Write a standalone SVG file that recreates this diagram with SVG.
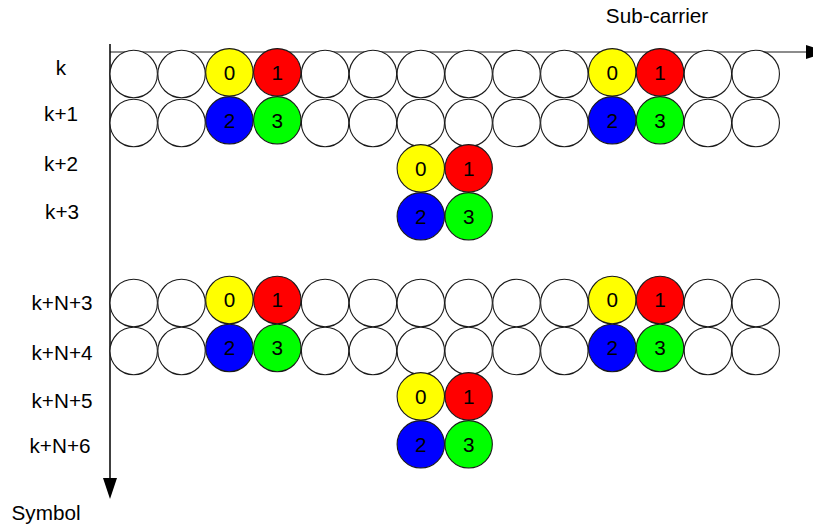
<svg xmlns="http://www.w3.org/2000/svg" width="813" height="526" viewBox="0 0 813 526">
<style>
text{font-family:"Liberation Sans",Arial,sans-serif;font-size:20.7px;fill:#000}
.lbl{text-anchor:middle}
.num{text-anchor:middle}
circle{stroke:#1a1a1a;stroke-width:1.1}
.w{fill:#fff}
.y{fill:#ffff00}
.r{fill:#ff0000}
.b{fill:#0000ff}
.g{fill:#00ff00}
</style>
<defs>
<marker id="ah" markerWidth="21" markerHeight="14" refX="0" refY="7" orient="auto" markerUnits="userSpaceOnUse">
<path d="M0,0 L21,7 L0,14 Z" fill="#000"/>
</marker>
</defs>
<rect width="813" height="526" fill="#fff"/>
<g id="connectors">
<line x1="110" y1="52" x2="806" y2="52" stroke="#666" stroke-width="1.5" marker-end="url(#ah)"/>
<line x1="110" y1="44" x2="110" y2="478" stroke="#000" stroke-width="1.5" marker-end="url(#ah)"/>
</g>
<g id="axis-labels">
<text id="lbl-subcarrier" x="657" y="23" class="lbl">Sub-carrier</text>
<text id="lbl-symbol" x="46" y="520" class="lbl">Symbol</text>
<text x="61" y="75" class="lbl">k</text>
<text x="61" y="121" class="lbl">k+1</text>
<text x="61" y="171" class="lbl">k+2</text>
<text x="62" y="219" class="lbl">k+3</text>
<text x="62" y="310" class="lbl">k+N+3</text>
<text x="62" y="360" class="lbl">k+N+4</text>
<text x="62" y="408" class="lbl">k+N+5</text>
<text x="60" y="453" class="lbl">k+N+6</text>
</g>
<g id="row-k-white">
<circle class="w" cx="133.7" cy="74" r="23.7"/>
<circle class="w" cx="181.55" cy="74" r="23.7"/>
<circle class="w" cx="325.1" cy="74" r="23.7"/>
<circle class="w" cx="372.95" cy="74" r="23.7"/>
<circle class="w" cx="420.8" cy="74" r="23.7"/>
<circle class="w" cx="468.65" cy="74" r="23.7"/>
<circle class="w" cx="516.5" cy="74" r="23.7"/>
<circle class="w" cx="564.35" cy="74" r="23.7"/>
<circle class="w" cx="707.9" cy="74" r="23.7"/>
<circle class="w" cx="755.75" cy="74" r="23.7"/>
</g>
<g id="row-k1-white">
<circle class="w" cx="133.7" cy="123" r="23.7"/>
<circle class="w" cx="181.55" cy="123" r="23.7"/>
<circle class="w" cx="325.1" cy="123" r="23.7"/>
<circle class="w" cx="372.95" cy="123" r="23.7"/>
<circle class="w" cx="420.8" cy="123" r="23.7"/>
<circle class="w" cx="468.65" cy="123" r="23.7"/>
<circle class="w" cx="516.5" cy="123" r="23.7"/>
<circle class="w" cx="564.35" cy="123" r="23.7"/>
<circle class="w" cx="707.9" cy="123" r="23.7"/>
<circle class="w" cx="755.75" cy="123" r="23.7"/>
</g>
<g id="row-kN3-white">
<circle class="w" cx="133.7" cy="303" r="23.7"/>
<circle class="w" cx="181.55" cy="303" r="23.7"/>
<circle class="w" cx="325.1" cy="303" r="23.7"/>
<circle class="w" cx="372.95" cy="303" r="23.7"/>
<circle class="w" cx="420.8" cy="303" r="23.7"/>
<circle class="w" cx="468.65" cy="303" r="23.7"/>
<circle class="w" cx="516.5" cy="303" r="23.7"/>
<circle class="w" cx="564.35" cy="303" r="23.7"/>
<circle class="w" cx="707.9" cy="303" r="23.7"/>
<circle class="w" cx="755.75" cy="303" r="23.7"/>
</g>
<g id="row-kN4-white">
<circle class="w" cx="133.7" cy="351" r="23.7"/>
<circle class="w" cx="181.55" cy="351" r="23.7"/>
<circle class="w" cx="325.1" cy="351" r="23.7"/>
<circle class="w" cx="372.95" cy="351" r="23.7"/>
<circle class="w" cx="420.8" cy="351" r="23.7"/>
<circle class="w" cx="468.65" cy="351" r="23.7"/>
<circle class="w" cx="516.5" cy="351" r="23.7"/>
<circle class="w" cx="564.35" cy="351" r="23.7"/>
<circle class="w" cx="707.9" cy="351" r="23.7"/>
<circle class="w" cx="755.75" cy="351" r="23.7"/>
</g>
<g id="block-a1">
<circle class="y" cx="229.4" cy="72.3" r="23.7"/><text class="num" x="229.4" y="79.7">0</text>
<circle class="r" cx="277.25" cy="72.3" r="23.7"/><text class="num" x="277.25" y="79.7">1</text>
<circle class="b" cx="229.4" cy="120.3" r="23.7"/><text class="num" x="229.4" y="127.7">2</text>
<circle class="g" cx="277.25" cy="120.3" r="23.7"/><text class="num" x="277.25" y="127.7">3</text>
</g>
<g id="block-a2">
<circle class="y" cx="612.2" cy="72.3" r="23.7"/><text class="num" x="612.2" y="79.7">0</text>
<circle class="r" cx="660.05" cy="72.3" r="23.7"/><text class="num" x="660.05" y="79.7">1</text>
<circle class="b" cx="612.2" cy="120.3" r="23.7"/><text class="num" x="612.2" y="127.7">2</text>
<circle class="g" cx="660.05" cy="120.3" r="23.7"/><text class="num" x="660.05" y="127.7">3</text>
</g>
<g id="block-a3">
<circle class="y" cx="420.8" cy="168.3" r="23.7"/><text class="num" x="420.8" y="175.7">0</text>
<circle class="r" cx="468.65" cy="168.3" r="23.7"/><text class="num" x="468.65" y="175.7">1</text>
<circle class="b" cx="420.8" cy="216.3" r="23.7"/><text class="num" x="420.8" y="223.7">2</text>
<circle class="g" cx="468.65" cy="216.3" r="23.7"/><text class="num" x="468.65" y="223.7">3</text>
</g>
<g id="block-b1">
<circle class="y" cx="229.4" cy="300" r="23.7"/><text class="num" x="229.4" y="307.4">0</text>
<circle class="r" cx="277.25" cy="300" r="23.7"/><text class="num" x="277.25" y="307.4">1</text>
<circle class="b" cx="229.4" cy="348" r="23.7"/><text class="num" x="229.4" y="355.4">2</text>
<circle class="g" cx="277.25" cy="348" r="23.7"/><text class="num" x="277.25" y="355.4">3</text>
</g>
<g id="block-b2">
<circle class="y" cx="612.2" cy="300" r="23.7"/><text class="num" x="612.2" y="307.4">0</text>
<circle class="r" cx="660.05" cy="300" r="23.7"/><text class="num" x="660.05" y="307.4">1</text>
<circle class="b" cx="612.2" cy="348" r="23.7"/><text class="num" x="612.2" y="355.4">2</text>
<circle class="g" cx="660.05" cy="348" r="23.7"/><text class="num" x="660.05" y="355.4">3</text>
</g>
<g id="block-b3">
<circle class="y" cx="420.8" cy="396.3" r="23.7"/><text class="num" x="420.8" y="403.7">0</text>
<circle class="r" cx="468.65" cy="396.3" r="23.7"/><text class="num" x="468.65" y="403.7">1</text>
<circle class="b" cx="420.8" cy="444.3" r="23.7"/><text class="num" x="420.8" y="451.7">2</text>
<circle class="g" cx="468.65" cy="444.3" r="23.7"/><text class="num" x="468.65" y="451.7">3</text>
</g>
</svg>
